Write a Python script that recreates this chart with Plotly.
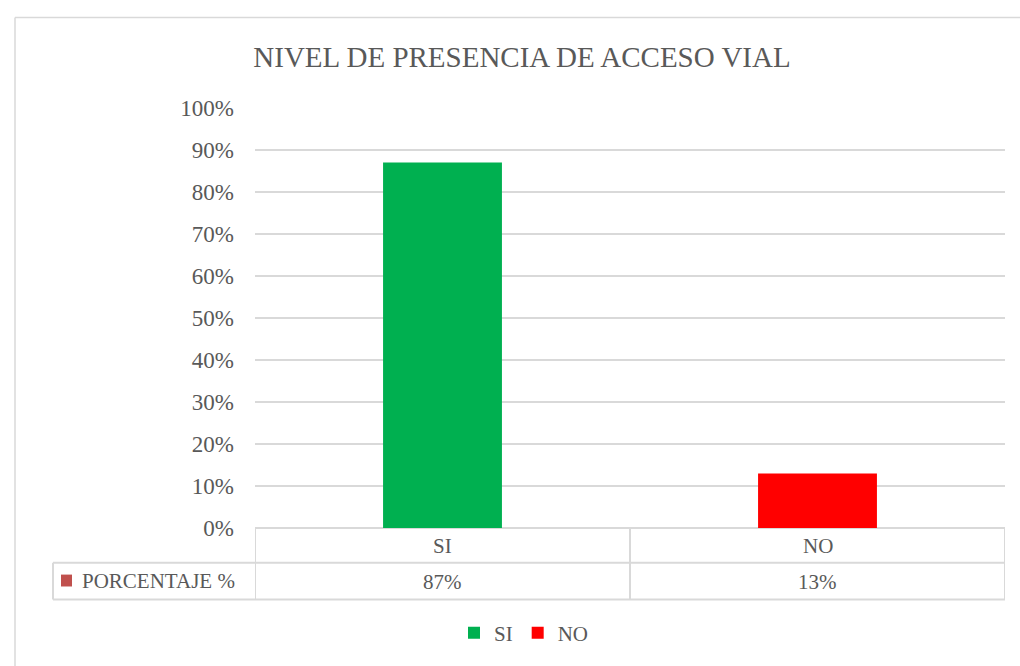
import plotly.graph_objects as go

categorias = ['SI', 'NO']
porcentaje = [0.87, 0.13]
colores = ['#00B050', '#FF0000']
serie_tabla = 'PORCENTAJE %'
color_serie = '#C0504D'
y_ticks = [0, 0.1, 0.2, 0.3, 0.4, 0.5, 0.6, 0.7, 0.8, 0.9, 1.0]

FUENTE = 'Liberation Serif'
GRIS = '#595959'
BORDE = '#D9D9D9'

fig = go.Figure()
for cat, val, col in zip(categorias, porcentaje, colores):
    fig.add_trace(go.Bar(
        x=[cat], y=[val], name=cat, width=0.317,
        marker=dict(color=col, line=dict(width=0)),
        hoverinfo='x+y'
    ))

# coordenadas de pantalla -> papel (la captura sale algo comprimida en vertical)
S = 1 / 0.9944
Y_TOP, Y_BOT = 108, 534
h = float(Y_BOT - Y_TOP)
w = 750.0


def py(px):
    return (Y_BOT - px * S) / h


def pxx(px):
    return (px - 255) / w


fila1 = py(566)
fila2 = py(603)
x_izq = pxx(53)

shapes = []
shapes.append(dict(type='line', xref='x', yref='paper', x0=-0.5, x1=1.5, y0=0, y1=0))
shapes.append(dict(type='line', xref='paper', yref='paper', x0=x_izq, x1=1, y0=fila1, y1=fila1))
shapes.append(dict(type='line', xref='paper', yref='paper', x0=x_izq, x1=1, y0=fila2, y1=fila2))
for xv in [-0.5, 0.5, 1.5]:
    shapes.append(dict(type='line', xref='x', yref='paper', x0=xv, x1=xv, y0=0, y1=fila2))
shapes.append(dict(type='line', xref='paper', yref='paper', x0=x_izq, x1=x_izq, y0=fila1, y1=fila2))
for s in shapes:
    s['line'] = dict(color=BORDE, width=2)
    s['layer'] = 'below'
# clave de la serie en la tabla
shapes.append(dict(type='rect', xref='paper', yref='paper', x0=pxx(61), x1=pxx(72),
                   y0=py(590), y1=py(578), fillcolor=color_serie, line=dict(width=0)))
# marco exterior
shapes.append(dict(type='line', xref='paper', yref='paper', x0=pxx(15), x1=pxx(15),
                   y0=py(16), y1=py(700), line=dict(color=BORDE, width=1.5)))
shapes.append(dict(type='line', xref='paper', yref='paper', x0=pxx(15), x1=pxx(1040),
                   y0=py(16), y1=py(16), line=dict(color=BORDE, width=1.5)))

annotations = []
for cat, val in zip(categorias, porcentaje):
    annotations.append(dict(x=cat, y=py(549), xref='x', yref='paper', yanchor='middle',
                            text=cat, showarrow=False,
                            font=dict(family=FUENTE, size=21, color=GRIS)))
    annotations.append(dict(x=cat, y=py(585), xref='x', yref='paper', yanchor='middle',
                            text=f'{val:.0%}', showarrow=False,
                            font=dict(family=FUENTE, size=21, color=GRIS)))
annotations.append(dict(x=pxx(80), y=py(584), xref='paper', yref='paper',
                        xanchor='left', yanchor='middle', showarrow=False,
                        text=serie_tabla,
                        font=dict(family=FUENTE, size=21, color=GRIS)))

fig.update_layout(
    width=1020, height=666,
    margin=dict(l=255, r=15, t=Y_TOP, b=666 - Y_BOT),
    paper_bgcolor='white', plot_bgcolor='white',
    title=dict(text='NIVEL DE PRESENCIA DE ACCESO VIAL', x=522 / 1020.0, xanchor='center',
               y=1 - 57 * S / 666.0, yanchor='middle',
               font=dict(family=FUENTE, size=29, color=GRIS)),
    barmode='overlay',
    showlegend=True,
    legend=dict(orientation='h', x=pxx(524), xanchor='center', y=py(637),
                yanchor='middle', font=dict(family=FUENTE, size=21, color=GRIS),
                itemwidth=30, traceorder='normal'),
    xaxis=dict(range=[-0.5, 1.5], showticklabels=False, showgrid=False, zeroline=False,
               showline=False, fixedrange=True),
    yaxis=dict(range=[0, 1.0], tickvals=y_ticks, tickformat='.0%', showgrid=True,
               gridcolor=BORDE, gridwidth=2, zeroline=False, showline=False,
               ticks='', ticklabelstandoff=20,
               tickfont=dict(family=FUENTE, size=23, color=GRIS)),
    shapes=shapes,
    annotations=annotations,
)

fig.write_html('out.html', config={'displayModeBar': False},
               post_script="document.body.style.margin='0';")
